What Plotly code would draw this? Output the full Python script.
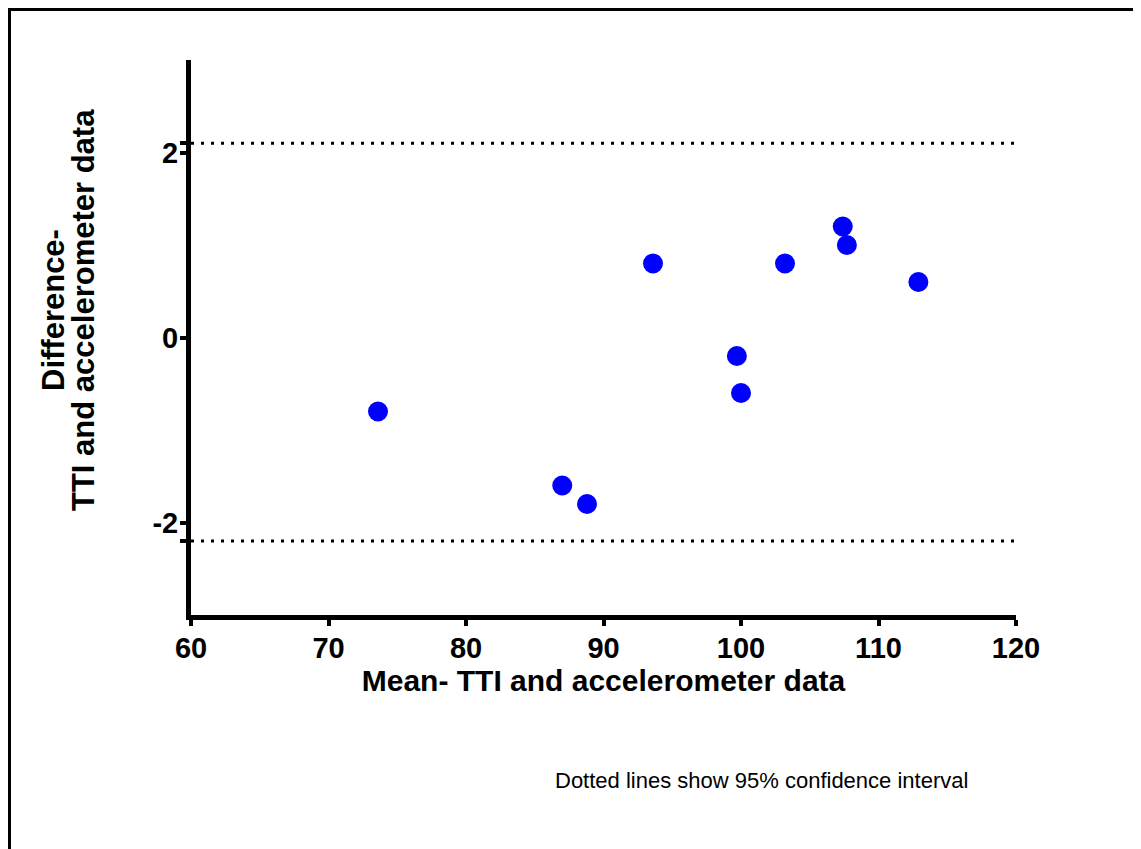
import plotly.graph_objects as go

# Data (Bland-Altman style)
mean_vals = [73.6, 87.0, 88.8, 93.6, 99.7, 100.0, 103.2, 107.4, 107.7, 112.9]
diff_vals = [-0.8, -1.6, -1.8, 0.8, -0.2, -0.6, 0.8, 1.2, 1.0, 0.6]
ci_upper = 2.1
ci_lower = -2.2
ci_x = [60, 120]

x_ticks = [60, 70, 80, 90, 100, 110, 120]
y_tick_vals = [-2.2, -2, 0, 2, 2.1]
y_tick_text = ["", "-2", "0", "2", ""]

FONT = "Liberation Sans, Arial, sans-serif"

fig = go.Figure()
for yv in (ci_upper, ci_lower):
    fig.add_trace(go.Scatter(
        x=ci_x, y=[yv, yv], mode="lines",
        line=dict(color="black", width=3, dash="3px,7px"),
        hoverinfo="skip", showlegend=False,
    ))
fig.add_trace(go.Scatter(
    x=mean_vals, y=diff_vals, mode="markers",
    marker=dict(color="#0000FF", size=20, line=dict(width=0)),
    showlegend=False,
))

axis_common = dict(
    showline=True, linecolor="black", linewidth=5,
    ticks="outside", ticklen=6, tickwidth=4, tickcolor="black",
    showgrid=False, zeroline=False,
    tickfont=dict(family=FONT, size=29, color="black", weight="bold"),
)

PL, PT, PW, PH = 183, 52, 825, 555  # plot area in figure pixels

fig.update_layout(
    width=1133, height=841,
    margin=dict(l=PL, r=1133 - PL - PW, t=PT, b=841 - PT - PH),
    paper_bgcolor="white", plot_bgcolor="white",
    xaxis=dict(
        range=[60, 120], tickvals=x_ticks, ticklabelstandoff=-3,
        title=dict(text="<b>Mean- TTI and accelerometer data</b>",
                   font=dict(family=FONT, size=30, color="black"), standoff=6),
        **axis_common,
    ),
    yaxis=dict(
        range=[-3, 3], tickvals=y_tick_vals, ticktext=y_tick_text,
        ticklabelstandoff=-4,
        **axis_common,
    ),
    annotations=[
        dict(text="<b>Difference-</b>", xref="paper", yref="paper",
             x=(53 - 191) / 825, y=(615 - 310) / 555, textangle=-90,
             xanchor="center", yanchor="middle", showarrow=False,
             font=dict(family=FONT, size=31, color="black")),
        dict(text="<b>TTI and accelerometer data</b>", xref="paper", yref="paper",
             x=(83 - 191) / 825, y=(615 - 310) / 555, textangle=-90,
             xanchor="center", yanchor="middle", showarrow=False,
             font=dict(family=FONT, size=31, color="black")),
        dict(text="Dotted lines show 95% confidence interval",
             xref="paper", yref="paper", x=0.691, y=-0.299,
             xanchor="center", yanchor="middle", showarrow=False,
             font=dict(family=FONT, size=22, color="black")),
    ],
    shapes=[dict(
        type="rect", xref="paper", yref="paper",
        x0=(1.5 - PL) / PW, x1=(1130 - PL) / PW,
        y0=-0.6, y1=(PT + PH - 1.5) / PH,
        line=dict(color="black", width=3), layer="below",
    )],
)

fig.write_html("out.html")
